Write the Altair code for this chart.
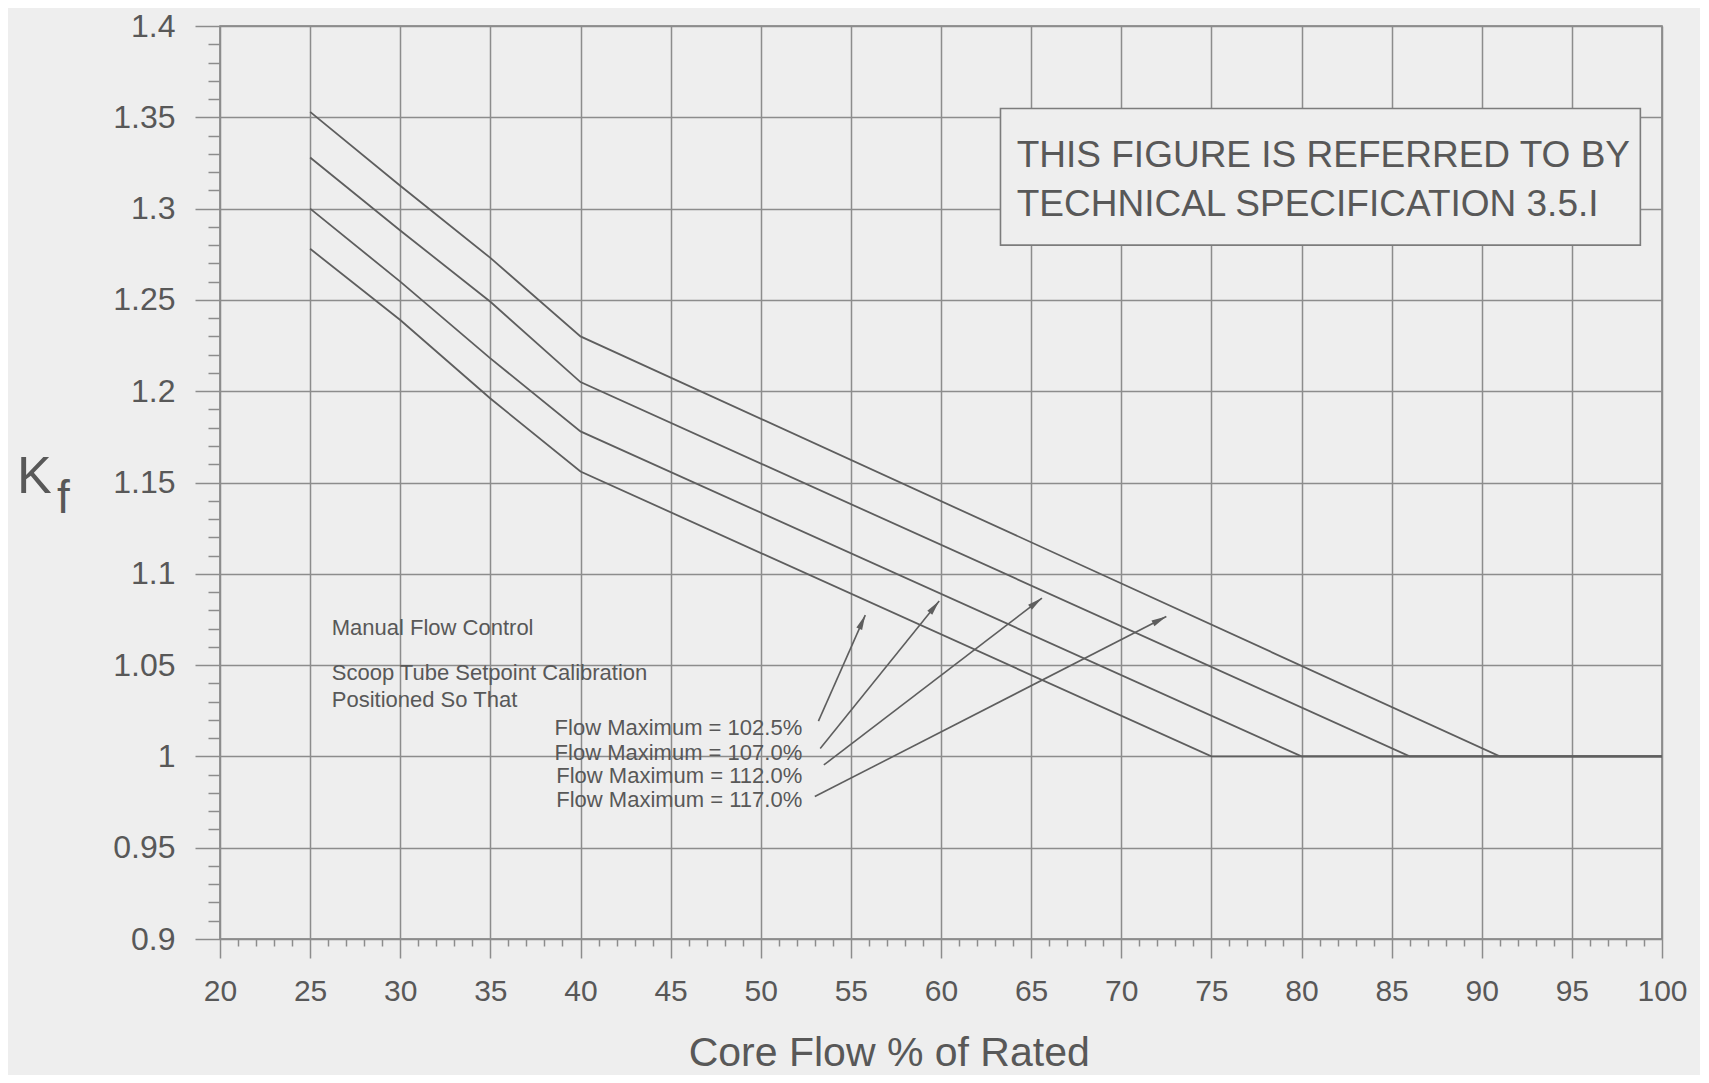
import math
import altair as alt
import pandas as pd

# ---------------- data ----------------
flow_low = [25, 30, 35, 40]
kf_1025 = [1.278, 1.239, 1.196, 1.156]
kf_1070 = [1.300, 1.260, 1.218, 1.178]
kf_1120 = [1.328, 1.288, 1.249, 1.205]
kf_1170 = [1.353, 1.3125, 1.273, 1.230]
series_names = ["102.5%", "107.0%", "112.0%", "117.0%"]
flow_at_unity = [75, 80, 86, 91]
flow_end = 100
kf_floor = 1.0

x_ticks = list(range(20, 101))
y_ticks = [round(0.90 + 0.01 * i, 2) for i in range(51)]

note_lines = ["Manual Flow Control", "Scoop Tube Setpoint Calibration", "Positioned So That"]
note_x = [26.2, 26.2, 26.2]
note_y = [1.0703, 1.0459, 1.0310]

label_texts = ["Flow Maximum = 102.5%", "Flow Maximum = 107.0%",
               "Flow Maximum = 112.0%", "Flow Maximum = 117.0%"]
label_x = [52.3, 52.3, 52.3, 52.3]
label_y = [1.0158, 1.0021, 0.9890, 0.9759]

arrow_x0 = [53.2, 53.3, 53.5, 53.0]
arrow_y0 = [1.0193, 1.0043, 0.9953, 0.978]
arrow_x1 = [55.8, 59.9, 65.6, 72.5]
arrow_y1 = [1.0774, 1.0851, 1.0867, 1.0766]

box_x = [63.3, 98.8]
box_y = [1.280, 1.3548]
box_lines = ["THIS FIGURE IS REFERRED TO BY", "TECHNICAL SPECIFICATION 3.5.I"]
box_text_x = [64.2, 64.2]
box_text_y = [1.329, 1.302]

# ---------------- layout / style ----------------
W, H = 1442, 913
X_DOM = [20, 100]
Y_DOM = [0.9, 1.4]
BG = "#eeeeee"
GRID = "#8c8c8c"
INK = "#5e5e5e"
TXT = "#585858"
FONT = "Liberation Sans"

sx = W / (X_DOM[1] - X_DOM[0])
sy = H / (Y_DOM[1] - Y_DOM[0])

# ---------------- tables ----------------
rows = []
for name, vals, xe in zip(series_names, [kf_1025, kf_1070, kf_1120, kf_1170], flow_at_unity):
    for i, (f, k) in enumerate(zip(flow_low, vals)):
        rows.append(dict(series=name, flow=f, kf=k, order=i))
    rows.append(dict(series=name, flow=xe, kf=kf_floor, order=4))
    rows.append(dict(series=name, flow=flow_end, kf=kf_floor, order=5))
curves = pd.DataFrame(rows)

HEAD_SIZE = 225
head_r = math.sqrt(HEAD_SIZE) / 2
arr_rows = []
for x0, y0, x1, y1 in zip(arrow_x0, arrow_y0, arrow_x1, arrow_y1):
    dx = (x1 - x0) * sx
    dy = (y1 - y0) * sy
    L = math.hypot(dx, dy)
    ang = math.degrees(math.atan2(dx, dy)) % 360
    hx = x1 - (dx / L) * head_r / sx
    hy = y1 - (dy / L) * head_r / sy
    arr_rows.append(dict(x0=x0, y0=y0, x1=x1, y1=y1, hx=hx, hy=hy, ang=ang))
arrows = pd.DataFrame(arr_rows)

notes = pd.DataFrame({"t": note_lines, "x": note_x, "y": note_y})
labels = pd.DataFrame({"t": label_texts, "x": label_x, "y": label_y})
box = pd.DataFrame({"x": [box_x[0]], "x2": [box_x[1]], "y": [box_y[0]], "y2": [box_y[1]]})
box_txt = pd.DataFrame({"t": box_lines, "x": box_text_x, "y": box_text_y})

x_scale = alt.Scale(domain=X_DOM, nice=False, zero=False)
y_scale = alt.Scale(domain=Y_DOM, nice=False, zero=False)

x_major = "datum.value % 5 === 0"
y_major = "round(datum.value * 100) % 5 === 0"

x_axis = alt.Axis(
    values=x_ticks,
    title="Core Flow % of Rated",
    titleFont=FONT, titleFontSize=41, titleFontWeight="normal", titleColor=TXT,
    titleX=(57.1 - X_DOM[0]) * sx, titleY=126, titleAlign="center", titleBaseline="alphabetic",
    labelExpr=f"{x_major} ? datum.label : ''",
    labelFont=FONT, labelFontSize=30, labelColor=TXT, labelPadding=18,
    labelOverlap=False, labelFlush=False, labelBaseline="top",
    tickSize={"condition": {"test": x_major, "value": 19}, "value": 7},
    tickColor=GRID, tickWidth=1.5,
    grid=True, gridColor=GRID, gridWidth=1.5,
    gridOpacity={"condition": {"test": x_major, "value": 1}, "value": 0},
    domain=False,
)
y_axis = alt.Axis(
    values=y_ticks,
    title=None,
    format=".2~f",
    labelExpr=f"{y_major} ? datum.label : ''",
    labelFont=FONT, labelFontSize=32, labelColor=TXT, labelPadding=20,
    labelOverlap=False, labelFlush=False,
    tickSize={"condition": {"test": y_major, "value": 25}, "value": 12},
    tickColor=GRID, tickWidth=1.5,
    grid=True, gridColor=GRID, gridWidth=1.5,
    gridOpacity={"condition": {"test": y_major, "value": 1}, "value": 0},
    domain=False,
)


def X(field):
    return alt.X(field, type="quantitative", scale=x_scale, axis=x_axis)


def Y(field):
    return alt.Y(field, type="quantitative", scale=y_scale, axis=y_axis)


lines = alt.Chart(curves).mark_line(color=INK, strokeWidth=1.8).encode(
    x=X("flow"), y=Y("kf"), detail="series:N", order="order:Q"
)

arrow_lines = alt.Chart(arrows).mark_rule(color=INK, strokeWidth=1.6).encode(
    x=X("x0"), y=Y("y0"), x2="x1:Q", y2="y1:Q"
)

arrow_heads = alt.Chart(arrows).mark_point(
    shape="M0,-1L0.42,1L-0.42,1Z", filled=True, color=INK, size=HEAD_SIZE, opacity=1
).encode(x=X("hx"), y=Y("hy"), angle=alt.Angle("ang:Q", scale=None))

box_rect = alt.Chart(box).mark_rect(fill=BG, stroke="#7c7c7c", strokeWidth=1.6).encode(
    x=X("x"), x2="x2:Q", y=Y("y"), y2="y2:Q"
)

box_text = alt.Chart(box_txt).mark_text(
    align="left", baseline="middle", font=FONT, fontSize=37, color=TXT
).encode(x=X("x"), y=Y("y"), text="t:N")

note_text = alt.Chart(notes).mark_text(
    align="left", baseline="middle", font=FONT, fontSize=22, color=TXT
).encode(x=X("x"), y=Y("y"), text="t:N")

label_text = alt.Chart(labels).mark_text(
    align="right", baseline="middle", font=FONT, fontSize=22, color=TXT
).encode(x=X("x"), y=Y("y"), text="t:N")

k_text = alt.Chart(pd.DataFrame({"t": ["K"]})).mark_text(
    align="left", baseline="alphabetic", font=FONT, fontSize=52, color=TXT
).encode(x=alt.value(-203), y=alt.value(467), text="t:N")

f_text = alt.Chart(pd.DataFrame({"t": ["f"]})).mark_text(
    align="left", baseline="alphabetic", font=FONT, fontSize=46, color=TXT
).encode(x=alt.value(-163), y=alt.value(487), text="t:N")

chart = alt.layer(
    lines, arrow_lines, arrow_heads, box_rect, box_text, note_text, label_text, k_text, f_text
).properties(
    width=W, height=H,
    padding={"left": 212, "top": 18, "right": 38, "bottom": 136},
    autosize=alt.AutoSizeParams(type="none"),
).configure(background=BG).configure_view(stroke="#7a7a7a", strokeWidth=1.5, fill=BG)

chart.save("out.html", embed_options={"renderer": "svg", "actions": False})
